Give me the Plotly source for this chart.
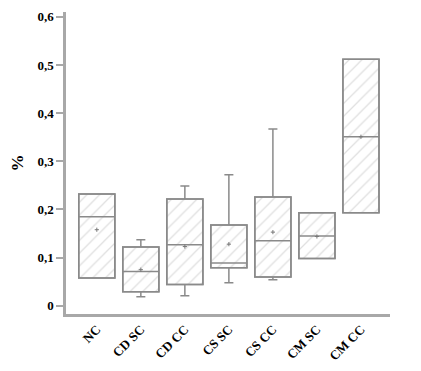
import plotly.graph_objects as go

categories = ["NC", "CD SC", "CD CC", "CS SC", "CS CC", "CM SC", "CM CC"]
q1 = [0.058, 0.029, 0.044, 0.079, 0.060, 0.098, 0.193]
median = [0.185, 0.071, 0.127, 0.089, 0.135, 0.145, 0.351]
q3 = [0.232, 0.122, 0.222, 0.168, 0.226, 0.193, 0.512]
lower = [0.058, 0.019, 0.021, 0.048, 0.054, 0.098, 0.193]
upper = [0.232, 0.137, 0.249, 0.272, 0.367, 0.193, 0.512]
mean = [0.158, 0.075, 0.123, 0.128, 0.153, 0.144, 0.351]

yticks = [0, 0.1, 0.2, 0.3, 0.4, 0.5, 0.6]
yticktext = ["0", "0,1", "0,2", "0,3", "0,4", "0,5", "0,6"]

edge = "#8a8a8a"
axis_c = "#a8a8a8"
font = "Liberation Serif"

fig = go.Figure()
fig.add_trace(go.Bar(
    x=categories, y=[b - a for a, b in zip(q1, q3)], base=q1, width=0.82,
    marker=dict(color="white", line=dict(color=edge, width=1.5),
                pattern=dict(shape="/", fgcolor="#c0c0c0", bgcolor="white", size=9, solidity=0.14)),
    showlegend=False, hoverinfo="skip"))
fig.add_trace(go.Box(
    x=categories, q1=q1, median=median, q3=q3, lowerfence=lower, upperfence=upper,
    width=0.82, whiskerwidth=0.25, fillcolor="rgba(0,0,0,0)",
    line=dict(color=edge, width=1.5), boxpoints=False, showlegend=False))
fig.add_trace(go.Scatter(
    x=categories, y=mean, mode="markers",
    marker=dict(symbol="cross-thin", size=3, line=dict(color="#777777", width=1)),
    showlegend=False))

fig.update_layout(
    width=421, height=371, margin=dict(l=58, r=39, t=4, b=65),
    plot_bgcolor="white", paper_bgcolor="white",
    font=dict(family=font, color="black", size=12),
    xaxis=dict(range=[-0.7, 6.66], showline=True, linecolor=axis_c, linewidth=2.5,
               ticks="", tickangle=-45, showgrid=False, zeroline=False, automargin=False,
               tickfont=dict(family=font, size=13, weight="bold")),
    yaxis=dict(range=[-0.017, 0.61], showline=True, linecolor=axis_c, linewidth=2.5,
               ticks="outside", ticklen=7, tickcolor=axis_c, tickwidth=1.5, automargin=False,
               tickvals=yticks, ticktext=yticktext, showgrid=False, zeroline=False,
               tickfont=dict(family=font, size=13, weight="bold"),
               title=dict(text="%", font=dict(family=font, size=17, weight="bold"), standoff=22)),
)
fig.write_html("out.html")
